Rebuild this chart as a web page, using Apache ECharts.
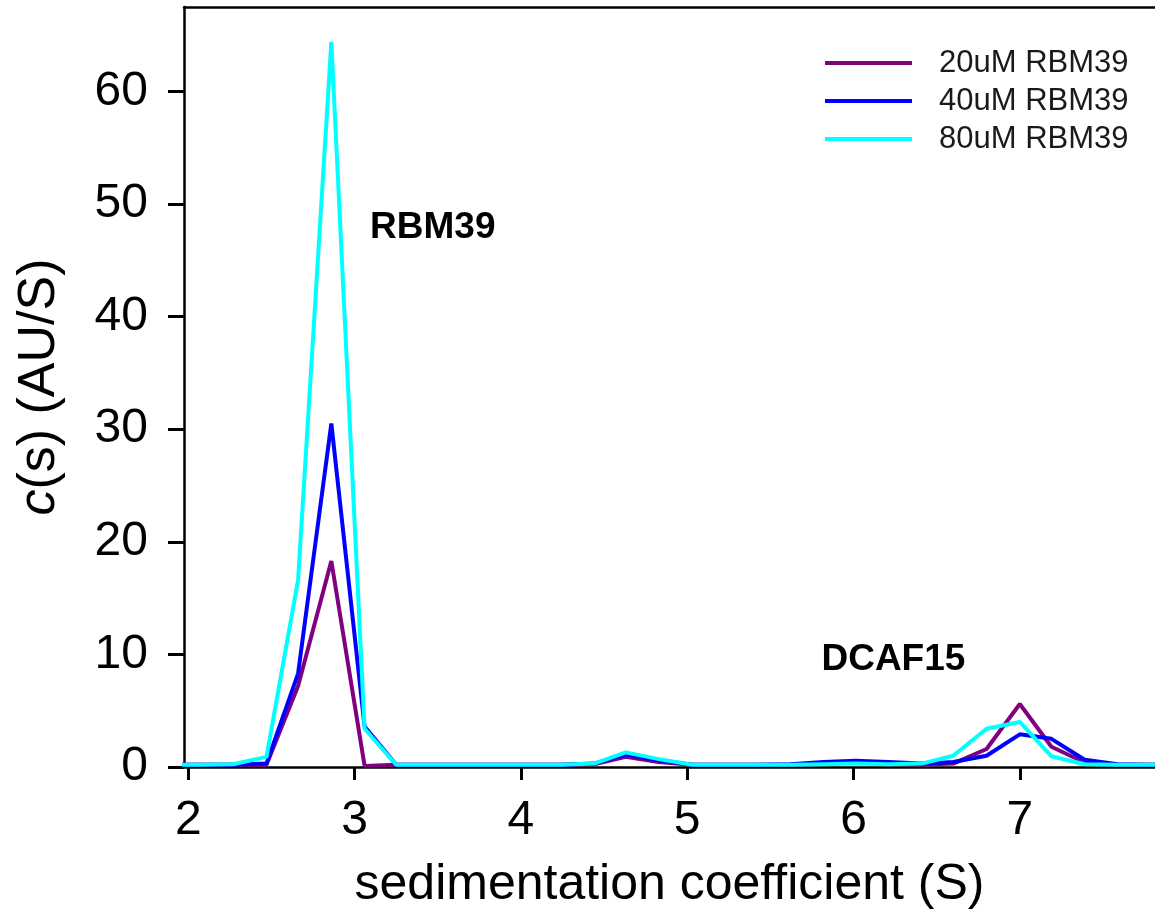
<!doctype html>
<html>
<head>
<meta charset="utf-8">
<title>c(s) distribution</title>
<style>
  html, body { margin: 0; padding: 0; background: #fff; }
  #main { width: 1155px; height: 916px; }
</style>
</head>
<body>
<div id="main"></div>
<script src="https://cdn.jsdelivr.net/npm/echarts@6/dist/echarts.min.js"></script>
<script>
// sedimentation coefficient grid (S)
var sValues = [1.88, 2.07, 2.27, 2.47, 2.66, 2.86, 3.06, 3.25, 3.45, 3.65, 3.85, 4.04, 4.24, 4.44, 4.63, 4.83,
  5.03, 5.22, 5.42, 5.62, 5.82, 6.01, 6.21, 6.41, 6.60, 6.80, 7.00, 7.19, 7.39, 7.59, 7.79, 7.98];

// c(s) for each RBM39 concentration
var c20 = [0.2, 0.2, 0.2, 0.2, 7.2, 18.3, 0.1, 0.2, 0.2, 0.2, 0.2, 0.2, 0.2, 0.25, 0.9, 0.45,
  0.2, 0.2, 0.2, 0.2, 0.3, 0.4, 0.3, 0.2, 0.3, 1.6, 5.6, 1.8, 0.4, 0.2, 0.2, 0.2];
var c40 = [0.2, 0.2, 0.2, 0.3, 8.3, 30.5, 3.6, 0.2, 0.2, 0.2, 0.2, 0.2, 0.2, 0.3, 1.1, 0.6,
  0.2, 0.2, 0.2, 0.25, 0.45, 0.55, 0.45, 0.3, 0.45, 1.0, 2.9, 2.5, 0.65, 0.25, 0.2, 0.2];
var c80 = [0.2, 0.2, 0.25, 0.9, 16.6, 64.4, 3.4, 0.2, 0.2, 0.2, 0.2, 0.2, 0.2, 0.3, 1.3, 0.7,
  0.2, 0.2, 0.2, 0.2, 0.25, 0.3, 0.25, 0.3, 1.0, 3.4, 4.0, 0.95, 0.25, 0.2, 0.2, 0.2];

var seriesNames = ['20uM RBM39', '40uM RBM39', '80uM RBM39'];
var seriesColors = ['#800080', '#0000ff', '#00ffff'];

var xTicks = [2, 3, 4, 5, 6, 7];
var yTicks = [0, 10, 20, 30, 40, 50, 60];

// peak annotations [s, c(s), text]
var notes = [
  [3.47, 47.9, 'RBM39'],
  [6.24, 9.5, 'DCAF15']
];

function pairs(ys) {
  var out = [];
  for (var i = 0; i < ys.length; i++) out.push([sValues[i], ys[i]]);
  return out;
}

var myChart = echarts.init(document.getElementById('main'));

var font = '"Liberation Sans", Arial, sans-serif';

var lineSeries = [c20, c40, c80].map(function (d, i) {
  return {
    name: seriesNames[i],
    type: 'line',
    data: pairs(d),
    symbol: 'none',
    smooth: false,
    lineStyle: { color: seriesColors[i], width: 4 },
    itemStyle: { color: seriesColors[i] },
    animation: false
  };
});

lineSeries.push({
  name: 'notes',
  type: 'scatter',
  symbolSize: 0,
  itemStyle: { opacity: 1, color: '#000' },
  data: notes.map(function (n) { return { value: [n[0], n[1]], name: n[2] }; }),
  label: {
    show: true,
    position: 'inside',
    formatter: '{b}',
    fontFamily: font,
    fontWeight: 'bold',
    fontSize: 37,
    color: '#000',
    opacity: 1
  },
  silent: true,
  animation: false
});

var option = {
  backgroundColor: '#fff',
  textStyle: { fontFamily: font },
  grid: { left: 184, right: 0, top: 7, bottom: 149, containLabel: false },
  legend: {
    data: seriesNames,
    orient: 'vertical',
    left: 820,
    top: 42,
    icon: 'rect',
    itemWidth: 87,
    itemHeight: 4,
    itemGap: 6,
    textStyle: { fontSize: 31, lineHeight: 32, color: '#1a1a1a', padding: [0, 0, 0, 22] }
  },
  xAxis: [{
    type: 'value',
    min: 1.974,
    max: 7.813,
    name: 'sedimentation coefficient (S)',
    nameLocation: 'middle',
    nameGap: 93,
    nameTextStyle: { fontSize: 50, color: '#000' },
    splitLine: { show: false },
    axisLine: { show: true, lineStyle: { color: '#000', width: 2.5 } },
    axisTick: { show: true, length: 13, customValues: xTicks, lineStyle: { color: '#000', width: 3 } },
    axisLabel: { margin: 30, fontSize: 48, color: '#000', customValues: xTicks }
  }, {
    type: 'value',
    position: 'top',
    min: 1.974,
    max: 7.813,
    splitLine: { show: false },
    axisLine: { show: true, lineStyle: { color: '#000', width: 2.5 } },
    axisTick: { show: false },
    axisLabel: { show: false }
  }],
  yAxis: {
    type: 'value',
    min: 0,
    max: 67.5,
    name: '{i|c}(s) (AU/S)',
    nameLocation: 'middle',
    nameGap: 118,
    nameTextStyle: {
      fontSize: 52,
      color: '#000',
      rich: { i: { fontSize: 52, fontStyle: 'italic', color: '#000' } }
    },
    splitLine: { show: false },
    axisLine: { show: true, lineStyle: { color: '#000', width: 2.5 } },
    axisTick: { show: true, length: 16, customValues: yTicks, lineStyle: { color: '#000', width: 3 } },
    axisLabel: { margin: 36, fontSize: 48, color: '#000', customValues: yTicks }
  },
  series: lineSeries
};

myChart.setOption(option);
</script>
</body>
</html>
